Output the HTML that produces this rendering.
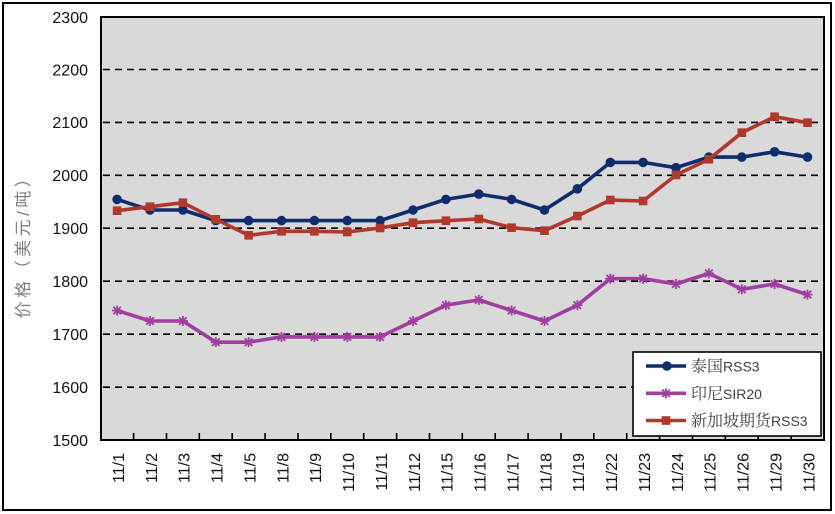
<!DOCTYPE html>
<html><head><meta charset="utf-8"><style>
html,body{margin:0;padding:0;background:#fff;}
svg{display:block;}
</style></head><body>
<svg width="835" height="514" viewBox="0 0 835 514" xmlns="http://www.w3.org/2000/svg">
<defs>
<g id="circ"><circle cx="0" cy="0" r="4.8" fill="#0F2C6C"/></g>
<g id="sq"><rect x="-4.3" y="-4.3" width="8.6" height="8.6" fill="#B0392B"/></g>
<g id="star" stroke="#A03FA0" stroke-width="1.8" fill="none"><line x1="-5" y1="0" x2="5" y2="0"/><line x1="0" y1="-5" x2="0" y2="5"/><line x1="-3.8" y1="-3.8" x2="3.8" y2="3.8"/><line x1="-3.8" y1="3.8" x2="3.8" y2="-3.8"/></g>
</defs>
<rect x="0" y="0" width="835" height="514" fill="#fff"/>
<rect x="3" y="3" width="828" height="507" fill="#fff" stroke="#000" stroke-width="2"/>
<!-- plot area -->
<rect x="101" y="17" width="723" height="423" fill="#D9D9D9"/>
<g stroke="#000" stroke-width="1.6" stroke-dasharray="7,5">
<line x1="103" y1="69.5" x2="823" y2="69.5"/>
<line x1="103" y1="122.4" x2="823" y2="122.4"/>
<line x1="103" y1="175.3" x2="823" y2="175.3"/>
<line x1="103" y1="228.2" x2="823" y2="228.2"/>
<line x1="103" y1="281.2" x2="823" y2="281.2"/>
<line x1="103" y1="334.2" x2="823" y2="334.2"/>
<line x1="103" y1="387.2" x2="823" y2="387.2"/>
</g>
<rect x="101" y="17" width="723" height="423" fill="none" stroke="#000" stroke-width="2"/>
<g stroke="#000" stroke-width="1.6">
<line x1="133.6" y1="433" x2="133.6" y2="440"/><line x1="166.5" y1="433" x2="166.5" y2="440"/><line x1="199.3" y1="433" x2="199.3" y2="440"/><line x1="232.2" y1="433" x2="232.2" y2="440"/><line x1="265.1" y1="433" x2="265.1" y2="440"/><line x1="298.0" y1="433" x2="298.0" y2="440"/><line x1="330.8" y1="433" x2="330.8" y2="440"/><line x1="363.7" y1="433" x2="363.7" y2="440"/><line x1="396.6" y1="433" x2="396.6" y2="440"/><line x1="429.5" y1="433" x2="429.5" y2="440"/><line x1="462.3" y1="433" x2="462.3" y2="440"/><line x1="495.2" y1="433" x2="495.2" y2="440"/><line x1="528.1" y1="433" x2="528.1" y2="440"/><line x1="561.0" y1="433" x2="561.0" y2="440"/><line x1="593.8" y1="433" x2="593.8" y2="440"/><line x1="626.7" y1="433" x2="626.7" y2="440"/><line x1="659.6" y1="433" x2="659.6" y2="440"/><line x1="692.5" y1="433" x2="692.5" y2="440"/><line x1="725.3" y1="433" x2="725.3" y2="440"/><line x1="758.2" y1="433" x2="758.2" y2="440"/><line x1="791.1" y1="433" x2="791.1" y2="440"/>
</g>
<!-- series -->
<polyline fill="none" stroke="#0F2C6C" stroke-width="3.6" stroke-linejoin="round" points="117.1,199.4 150.0,210.0 182.9,210.0 215.8,220.6 248.6,220.6 281.5,220.6 314.4,220.6 347.3,220.6 380.1,220.6 413.0,210.0 445.9,199.4 478.8,194.1 511.6,199.4 544.5,210.0 577.4,188.8 610.3,162.4 643.1,162.4 676.0,167.7 708.9,157.1 741.8,157.1 774.6,151.8 807.5,157.1"/>
<g>
<use href="#circ" x="117.1" y="199.4"/><use href="#circ" x="150.0" y="210.0"/><use href="#circ" x="182.9" y="210.0"/><use href="#circ" x="215.8" y="220.6"/><use href="#circ" x="248.6" y="220.6"/><use href="#circ" x="281.5" y="220.6"/><use href="#circ" x="314.4" y="220.6"/><use href="#circ" x="347.3" y="220.6"/><use href="#circ" x="380.1" y="220.6"/><use href="#circ" x="413.0" y="210.0"/><use href="#circ" x="445.9" y="199.4"/><use href="#circ" x="478.8" y="194.1"/><use href="#circ" x="511.6" y="199.4"/><use href="#circ" x="544.5" y="210.0"/><use href="#circ" x="577.4" y="188.8"/><use href="#circ" x="610.3" y="162.4"/><use href="#circ" x="643.1" y="162.4"/><use href="#circ" x="676.0" y="167.7"/><use href="#circ" x="708.9" y="157.1"/><use href="#circ" x="741.8" y="157.1"/><use href="#circ" x="774.6" y="151.8"/><use href="#circ" x="807.5" y="157.1"/>
</g>
<polyline fill="none" stroke="#A03FA0" stroke-width="3.6" stroke-linejoin="round" points="117.1,310.5 150.0,321.0 182.9,321.0 215.8,342.2 248.6,342.2 281.5,336.9 314.4,336.9 347.3,336.9 380.1,336.9 413.0,321.0 445.9,305.2 478.8,299.9 511.6,310.5 544.5,321.0 577.4,305.2 610.3,278.7 643.1,278.7 676.0,284.0 708.9,273.4 741.8,289.3 774.6,284.0 807.5,294.6"/>
<g>
<use href="#star" x="117.1" y="310.5"/><use href="#star" x="150.0" y="321.0"/><use href="#star" x="182.9" y="321.0"/><use href="#star" x="215.8" y="342.2"/><use href="#star" x="248.6" y="342.2"/><use href="#star" x="281.5" y="336.9"/><use href="#star" x="314.4" y="336.9"/><use href="#star" x="347.3" y="336.9"/><use href="#star" x="380.1" y="336.9"/><use href="#star" x="413.0" y="321.0"/><use href="#star" x="445.9" y="305.2"/><use href="#star" x="478.8" y="299.9"/><use href="#star" x="511.6" y="310.5"/><use href="#star" x="544.5" y="321.0"/><use href="#star" x="577.4" y="305.2"/><use href="#star" x="610.3" y="278.7"/><use href="#star" x="643.1" y="278.7"/><use href="#star" x="676.0" y="284.0"/><use href="#star" x="708.9" y="273.4"/><use href="#star" x="741.8" y="289.3"/><use href="#star" x="774.6" y="284.0"/><use href="#star" x="807.5" y="294.6"/>
</g>
<polyline fill="none" stroke="#B0392B" stroke-width="3.6" stroke-linejoin="round" points="117.1,210.7 150.0,206.7 182.9,202.7 215.8,219.3 248.6,235.3 281.5,231.3 314.4,231.3 347.3,232.0 380.1,228.0 413.0,222.7 445.9,220.7 478.8,219.0 511.6,227.7 544.5,230.7 577.4,216.0 610.3,200.0 643.1,201.0 676.0,175.0 708.9,159.3 741.8,132.7 774.6,116.7 807.5,122.7"/>
<g>
<use href="#sq" x="117.1" y="210.7"/><use href="#sq" x="150.0" y="206.7"/><use href="#sq" x="182.9" y="202.7"/><use href="#sq" x="215.8" y="219.3"/><use href="#sq" x="248.6" y="235.3"/><use href="#sq" x="281.5" y="231.3"/><use href="#sq" x="314.4" y="231.3"/><use href="#sq" x="347.3" y="232.0"/><use href="#sq" x="380.1" y="228.0"/><use href="#sq" x="413.0" y="222.7"/><use href="#sq" x="445.9" y="220.7"/><use href="#sq" x="478.8" y="219.0"/><use href="#sq" x="511.6" y="227.7"/><use href="#sq" x="544.5" y="230.7"/><use href="#sq" x="577.4" y="216.0"/><use href="#sq" x="610.3" y="200.0"/><use href="#sq" x="643.1" y="201.0"/><use href="#sq" x="676.0" y="175.0"/><use href="#sq" x="708.9" y="159.3"/><use href="#sq" x="741.8" y="132.7"/><use href="#sq" x="774.6" y="116.7"/><use href="#sq" x="807.5" y="122.7"/>
</g>
<!-- y labels -->
<g font-family="'Liberation Sans', sans-serif" font-size="16" fill="#111" text-anchor="end">
<text x="88" y="22.8">2300</text>
<text x="88" y="75.3">2200</text>
<text x="88" y="128.2">2100</text>
<text x="88" y="181.1">2000</text>
<text x="88" y="234.0">1900</text>
<text x="88" y="287.0">1800</text>
<text x="88" y="340.0">1700</text>
<text x="88" y="393.0">1600</text>
<text x="88" y="445.8">1500</text>
</g>
<text transform="translate(29,242.5) rotate(-90)" text-anchor="middle" font-family="'Liberation Sans', 'Noto Sans CJK SC', sans-serif" font-size="17" letter-spacing="3.5" fill="#808080">价格（美元/吨）</text>
<!-- x labels -->
<g font-family="'Liberation Sans', sans-serif" font-size="16" fill="#111" text-anchor="end">
<text transform="translate(123.9,453) rotate(-90)">11/1</text>
<text transform="translate(156.8,453) rotate(-90)">11/2</text>
<text transform="translate(189.7,453) rotate(-90)">11/3</text>
<text transform="translate(222.6,453) rotate(-90)">11/4</text>
<text transform="translate(255.4,453) rotate(-90)">11/5</text>
<text transform="translate(288.3,453) rotate(-90)">11/8</text>
<text transform="translate(321.2,453) rotate(-90)">11/9</text>
<text transform="translate(354.1,453) rotate(-90)">11/10</text>
<text transform="translate(386.9,453) rotate(-90)">11/11</text>
<text transform="translate(419.8,453) rotate(-90)">11/12</text>
<text transform="translate(452.7,453) rotate(-90)">11/15</text>
<text transform="translate(485.6,453) rotate(-90)">11/16</text>
<text transform="translate(518.4,453) rotate(-90)">11/17</text>
<text transform="translate(551.3,453) rotate(-90)">11/18</text>
<text transform="translate(584.2,453) rotate(-90)">11/19</text>
<text transform="translate(617.1,453) rotate(-90)">11/22</text>
<text transform="translate(649.9,453) rotate(-90)">11/23</text>
<text transform="translate(682.8,453) rotate(-90)">11/24</text>
<text transform="translate(715.7,453) rotate(-90)">11/25</text>
<text transform="translate(748.6,453) rotate(-90)">11/26</text>
<text transform="translate(781.4,453) rotate(-90)">11/29</text>
<text transform="translate(814.3,453) rotate(-90)">11/30</text>
</g>
<!-- legend -->
<rect x="633" y="352" width="188" height="84" fill="#fff" stroke="#000" stroke-width="1.6"/>
<line x1="646" y1="366" x2="686" y2="366" stroke="#0F2C6C" stroke-width="3.6"/>
<use href="#circ" x="667" y="366"/>
<line x1="646" y1="393.3" x2="686" y2="393.3" stroke="#A03FA0" stroke-width="3.6"/>
<use href="#star" x="666" y="393.3"/>
<line x1="646" y1="420.5" x2="686" y2="420.5" stroke="#B0392B" stroke-width="3.6"/>
<use href="#sq" x="666" y="420.5"/>
<g fill="#404040">
<text x="691" y="371.5"><tspan font-size="16" font-family="'Noto Serif CJK SC', serif">泰国</tspan><tspan font-size="14" font-family="'Liberation Sans', sans-serif">RSS3</tspan></text>
<text x="691" y="398.8"><tspan font-size="16" font-family="'Noto Serif CJK SC', serif">印尼</tspan><tspan font-size="14" font-family="'Liberation Sans', sans-serif">SIR20</tspan></text>
<text x="691" y="426"><tspan font-size="16" font-family="'Noto Serif CJK SC', serif">新加坡期货</tspan><tspan font-size="14" font-family="'Liberation Sans', sans-serif">RSS3</tspan></text>
</g>
</svg>
</body></html>
